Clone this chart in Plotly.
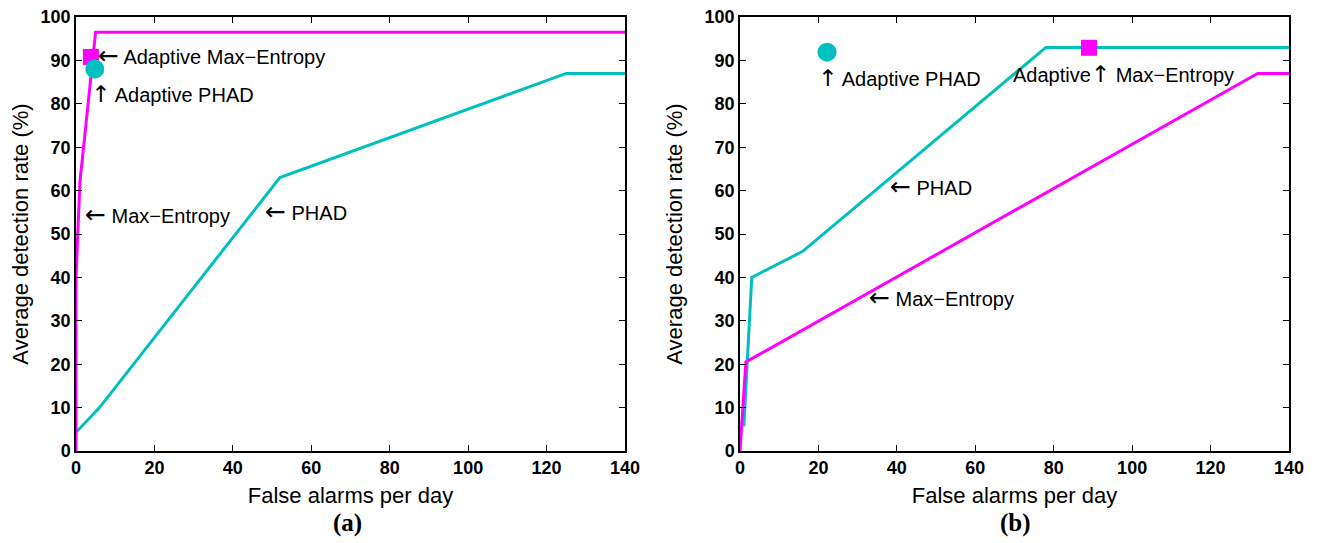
import plotly.graph_objects as go

# Panel (a)
a_maxent_x = [0, 0, 1, 5, 140]
a_maxent_y = [0, 40, 62, 96.5, 96.5]
a_phad_x = [0, 6, 52, 125, 140]
a_phad_y = [4.3, 10, 63, 87, 87]
a_adapt_maxent = (3.8, 90.8)
a_adapt_phad = (4.8, 88)

# Panel (b)
b_maxent_x = [0, 0.5, 1.5, 132, 140]
b_maxent_y = [0, 7, 20.5, 87, 87]
b_phad_x = [0.8, 1, 3, 16, 78, 140]
b_phad_y = [6, 6, 40, 46, 93, 93]
b_adapt_maxent = (89, 92.9)
b_adapt_phad = (22.2, 91.9)

x_ticks = [0, 20, 40, 60, 80, 100, 120, 140]
y_ticks = [0, 10, 20, 30, 40, 50, 60, 70, 80, 90, 100]

MAG = "#FF00FF"
TEAL = "#00BFBF"

fig = go.Figure()

def add_panel(xa, ya, mx, my, px, py, am, ap):
    fig.add_trace(go.Scatter(x=px, y=py, mode="lines", line=dict(color=TEAL, width=3),
                             xaxis=xa, yaxis=ya, showlegend=False))
    fig.add_trace(go.Scatter(x=mx, y=my, mode="lines", line=dict(color=MAG, width=3),
                             xaxis=xa, yaxis=ya, showlegend=False))
    fig.add_trace(go.Scatter(x=[am[0]], y=[am[1]], mode="markers",
                             marker=dict(symbol="square", size=16, color=MAG),
                             xaxis=xa, yaxis=ya, showlegend=False, cliponaxis=False))
    fig.add_trace(go.Scatter(x=[ap[0]], y=[ap[1]], mode="markers",
                             marker=dict(symbol="circle", size=19, color=TEAL),
                             xaxis=xa, yaxis=ya, showlegend=False, cliponaxis=False))

add_panel("x", "y", a_maxent_x, a_maxent_y, a_phad_x, a_phad_y, a_adapt_maxent, a_adapt_phad)
add_panel("x2", "y2", b_maxent_x, b_maxent_y, b_phad_x, b_phad_y, b_adapt_maxent, b_adapt_phad)

axis_common = dict(
    showgrid=False, zeroline=False, showline=True, linecolor="black", linewidth=1.5,
    mirror="ticks", ticks="inside", ticklen=6, tickcolor="black", automargin=False,
    ticklabeloverflow="allow",
    tickfont=dict(family="Liberation Sans", size=18, color="black", weight="bold"),
)
title_font = dict(family="Liberation Sans", size=22, color="black")
xaxis_common = dict(axis_common, range=[0, 140], tickvals=x_ticks,
                    title=dict(text="False alarms per day", font=title_font, standoff=10))
yaxis_common = dict(axis_common, range=[0, 100], tickvals=y_ticks,
                    title=dict(text="Average detection rate (%)", font=title_font, standoff=16))

# page has an 8px body offset; positions below are page pixels minus 8
OFF = 8
W, H = 1318, 543
fig.update_layout(
    width=W, height=H,
    paper_bgcolor="white", plot_bgcolor="white",
    margin=dict(l=0, r=0, t=17 - OFF, b=H - (451 - OFF)),
    xaxis=dict(xaxis_common, domain=[(76 - OFF)/W, (625 - OFF)/W], anchor="y"),
    yaxis=dict(yaxis_common, domain=[0, 1], anchor="x"),
    xaxis2=dict(xaxis_common, domain=[(740 - OFF)/W, (1289 - OFF)/W], anchor="y2"),
    yaxis2=dict(yaxis_common, domain=[0, 1], anchor="x2"),
)

ann_font = dict(family="Liberation Sans", size=20, color="black")
L = '<span style="font-family:DejaVu Sans;font-size:25px">←</span>'
U = '<span style="font-family:DejaVu Sans;font-size:23px">↑</span>'
anns = [
    ("x", "y", 5.0, 91.2, L + " Adaptive Max−Entropy"),
    ("x", "y", 3.4, 82.3, U + " Adaptive PHAD"),
    ("x", "y", 1.9, 54.6, L + " Max−Entropy"),
    ("x", "y", 47.6, 55.3, L + " PHAD"),
    ("x2", "y2", 19.5, 86.0, U + " Adaptive PHAD"),
    ("x2", "y2", 69.2, 86.9, "Adaptive" + U + " Max−Entropy"),
    ("x2", "y2", 37.7, 61.0, L + " PHAD"),
    ("x2", "y2", 32.3, 35.3, L + " Max−Entropy"),
]
for xr, yr, x, y, t in anns:
    fig.add_annotation(x=x, y=y, xref=xr, yref=yr, text=t, showarrow=False,
                       xanchor="left", yanchor="middle", font=ann_font)

for xc, lab in [(347, "(a)"), (1015, "(b)")]:
    fig.add_annotation(x=(xc - OFF)/W, y=-(523-451)/434, xref="paper", yref="paper", text=lab,
                       showarrow=False, xanchor="center", yanchor="middle",
                       font=dict(family="Liberation Serif", size=25, color="black", weight="bold"))

fig.write_html("out.html")
